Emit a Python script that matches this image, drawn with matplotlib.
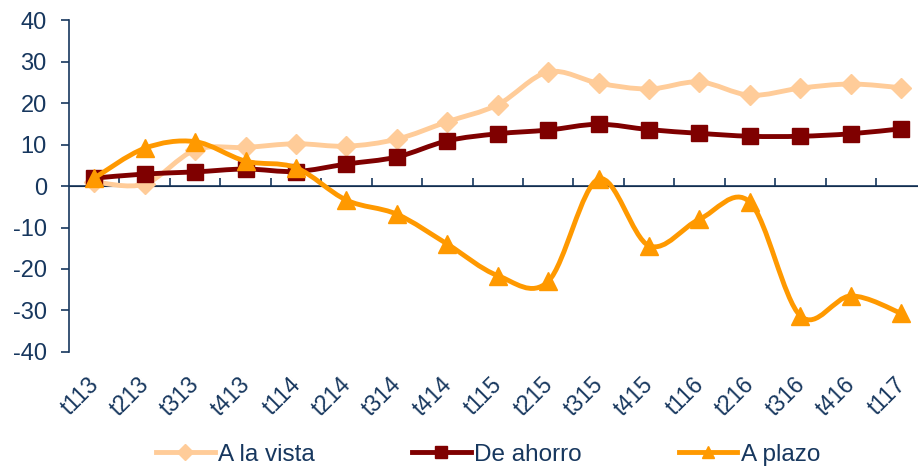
import numpy as np
import matplotlib.pyplot as plt
import matplotlib.transforms as mtransforms
from matplotlib.path import Path
from matplotlib.patches import PathPatch
from matplotlib.lines import Line2D

plt.rcParams['font.family'] = ['Liberation Sans', 'DejaVu Sans']
plt.rcParams['axes.unicode_minus'] = False

periods = ["t113", "t213", "t313", "t413", "t114", "t214", "t314", "t414", "t115",
           "t215", "t315", "t415", "t116", "t216", "t316", "t416", "t117"]
a_la_vista = [1.0, 0.5, 8.7, 9.3, 10.2, 9.6, 11.3, 15.5, 19.6,
              27.5, 24.8, 23.4, 25.1, 21.9, 23.6, 24.6, 23.7]
de_ahorro = [1.9, 2.9, 3.4, 4.1, 3.5, 5.3, 7.0, 10.9, 12.6,
             13.5, 14.9, 13.6, 12.7, 12.0, 12.0, 12.6, 13.8]
a_plazo = [1.9, 9.1, 10.7, 6.0, 4.4, -3.4, -6.8, -14.0, -21.6,
           -23.0, 1.7, -14.4, -8.0, -3.9, -31.3, -26.5, -30.7]

navy = "#17375E"
c_vista = "#FFCC99"
c_ahorro = "#7F0000"
c_plazo = "#FF9900"


def smooth_path(x, y):
    # bezier segments through every point, tangent = (next - prev) / 6
    p = np.column_stack([x, y]).astype(float)
    n = len(p)
    verts = [p[0]]
    codes = [Path.MOVETO]
    for i in range(n - 1):
        prev = p[i - 1] if i > 0 else p[i]
        nxt = p[i + 2] if i + 2 < n else p[i + 1]
        c1 = p[i] + (p[i + 1] - prev) / 6
        c2 = p[i + 1] - (nxt - p[i]) / 6
        verts += [c1, c2, p[i + 1]]
        codes += [Path.CURVE4] * 3
    return Path(verts, codes)


fig = plt.figure(figsize=(9.18, 4.68), dpi=100)
ax = fig.add_axes([0.0752, 0.248, 0.934, 0.709])
x = np.arange(len(periods))

series = [(a_la_vista, c_vista, "D", 10.5, "A la vista"),
          (de_ahorro, c_ahorro, "s", 11, "De ahorro"),
          (a_plazo, c_plazo, "^", 12.5, "A plazo")]
handles = []
for z, (vals, col, mk, ms, name) in enumerate(series):
    ax.add_patch(PathPatch(smooth_path(x, vals), facecolor="none", edgecolor=col,
                           lw=3.5, zorder=3 + 2 * z, capstyle="round", joinstyle="round"))
    ax.plot(x, vals, linestyle="none", marker=mk, ms=ms, color=col, mec=col, zorder=4 + 2 * z)
    handles.append(Line2D([], [], color=col, lw=3.5, marker=mk, ms=8.5, mec=col, label=name))

ax.set_xlim(-0.5, len(periods) - 0.5)
ax.set_ylim(-40, 40)
ax.set_yticks(np.arange(-40, 41, 10))

for s in ["top", "right", "bottom"]:
    ax.spines[s].set_visible(False)
ax.spines["left"].set_color(navy)
ax.spines["left"].set_linewidth(1.2)
ax.tick_params(axis="y", colors=navy, labelsize=17, length=6, width=1.2, pad=10)
ax.set_xticks(x)
ax.set_xticklabels(periods, rotation=45, ha="right", rotation_mode="default")
ax.tick_params(axis="x", colors=navy, labelsize=16.5, length=0, pad=15)
shift = mtransforms.ScaledTranslation(9 / 100, 0, fig.dpi_scale_trans)
for lbl in ax.get_xticklabels():
    lbl.set_transform(lbl.get_transform() + shift)

# zero line with category separators
ax.axhline(0, color=navy, lw=1.2, zorder=2)
zero_axis = ax.secondary_xaxis(0.5)
zero_axis.spines["bottom"].set_visible(False)
zero_axis.set_xticks(np.arange(0.5, len(periods) - 0.5, 1.0))
zero_axis.set_xticklabels([])
zero_axis.tick_params(axis="x", colors=navy, length=6, width=1.2, direction="out")

fig.legend(handles=handles, loc="lower center", bbox_to_anchor=(0.532, -0.042), ncol=3,
           frameon=False, fontsize=17.5, handlelength=2.4, handletextpad=0.15,
           columnspacing=4.0, labelcolor=navy)

fig.savefig("out.png", dpi=100)
